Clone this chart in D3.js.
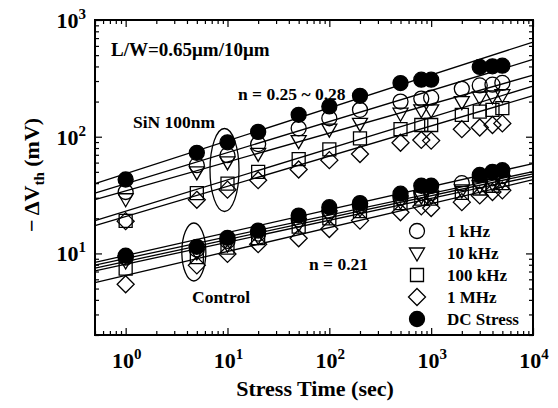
<!DOCTYPE html>
<html>
<head>
<meta charset="utf-8">
<script src="https://cdn.jsdelivr.net/npm/d3@7"></script>
<style>
  body { margin: 0; background: #fff; }
  svg text { font-family: "Liberation Serif", "Times New Roman", serif; font-weight: bold; fill: #000; }
</style>
</head>
<body>
<svg id="chart"></svg>
<script>
// Stress times (sec)
var timesAC = [1, 5, 10, 20, 50, 100, 200, 500, 800, 1000, 2000, 3000, 4000, 5000];
var timesDC = [1, 5, 10, 20, 50, 100, 200, 500, 800, 1000, 3000, 4000, 5000];

// SiN 100nm, -dVth (mV)
var sin1k   = [33.6, 57, 69.5, 86.5, 118, 144, 170, 200, 212, 216, 257, 275, 279, 289];
var sin10k  = [29.4, 49.9, 60.8, 72, 92.5, 116, 130, 159, 170, 170, 200, 219, 224, 229];
var sin100k = [19, 32.9, 39.6, 50, 64.3, 77.8, 96.9, 116, 126, 126, 154, 164, 170, 176];
var sin1M   = [18.9, 28.8, 35.2, 42.4, 52.4, 63, 71, 88.7, 93.8, 92.6, 116, 120, 126, 130];
var sinDC   = [43, 72.8, 89.6, 110, 154, 181.6, 224, 288, 308, 308, 396, 401, 406];

// Control, -dVth (mV)
var ctl1k   = [9.2, 10.8, 12.8, 14.8, 19.5, 23, 25.5, 30, 33, 33, 40, 42, 44, 46];
var ctl10k  = [8.6, 10.3, 12, 14, 18, 21, 24, 28, 31, 31, 35, 38, 40, 42];
var ctl100k = [7.4, 9.3, 11.2, 13.5, 17, 20, 23, 27, 29.5, 29.5, 33, 36, 38, 40];
var ctl1M   = [5.44, 7.9, 9.9, 12, 13.5, 16.2, 19.1, 22.5, 25.3, 24.5, 27.5, 31.4, 33.6, 34.7];
var ctlDC   = [9.55, 11.4, 13.6, 15.7, 21.1, 24.9, 27, 32.5, 38, 38, 47, 50, 51.6];

// power-law fit lines, dV = a * t^n  (order: 1k, 10k, 100k, 1M, DC)
var sinFitA = [39.6, 34.3, 23.0, 20.7, 48.2];
var sinFitN = [0.266, 0.248, 0.268, 0.259, 0.282];
var ctlFitA = [9.05, 8.52, 8.09, 6.48, 9.59];
var ctlFitN = [0.186, 0.188, 0.188, 0.205, 0.197];

var legendLabels = ["1 kHz", "10 kHz", "100 kHz", "1 MHz", "DC Stress"];
var shapes = ["circle", "triangle", "square", "diamond", "dot"];
var xMajor = [1, 10, 100, 1000, 10000];
var yMajor = [10, 100, 1000];

var width = 558, height = 408;
var padL = 95, padR = 533, padT = 20, padB = 335;

var svg = d3.select("#chart").attr("width", width).attr("height", height);

var x = d3.scaleLog().domain([0.5, 1e4]).range([padL, padR]);
var y = d3.scaleLog().domain([2, 1000]).range([padB, padT]);

// minor tick values
var xMinor = [], yMinor = [];
[0.1, 1, 10, 100, 1000].forEach(function(d) {
  for (var k = 2; k <= 9; k++) {
    var v = d * k;
    if (v >= 0.5 && v < 1e4) xMinor.push(v);
  }
});
[1, 10, 100].forEach(function(d) {
  for (var k = 2; k <= 9; k++) {
    var v = d * k;
    if (v >= 2 && v < 1000) yMinor.push(v);
  }
});

function tickAxis(axis, values, size, transform) {
  var g = svg.append("g")
    .attr("transform", transform)
    .call(axis.tickValues(values).tickSize(size).tickFormat(""));
  g.select(".domain").remove();
  g.selectAll("line").attr("stroke", "#000").attr("stroke-width", 1.2);
}

tickAxis(d3.axisBottom(x), xMajor, -7, "translate(0," + padB + ")");
tickAxis(d3.axisBottom(x), xMinor, -4, "translate(0," + padB + ")");
tickAxis(d3.axisTop(x), xMajor, -7, "translate(0," + padT + ")");
tickAxis(d3.axisTop(x), xMinor, -4, "translate(0," + padT + ")");
tickAxis(d3.axisLeft(y), yMajor, -7, "translate(" + padL + ",0)");
tickAxis(d3.axisLeft(y), yMinor, -4, "translate(" + padL + ",0)");
tickAxis(d3.axisRight(y), yMajor, -7, "translate(" + padR + ",0)");
tickAxis(d3.axisRight(y), yMinor, -4, "translate(" + padR + ",0)");

// frame
svg.append("rect")
  .attr("x", padL).attr("y", padT)
  .attr("width", padR - padL).attr("height", padB - padT)
  .attr("fill", "none").attr("stroke", "#000").attr("stroke-width", 2);

// tick labels with superscript exponent
xMajor.forEach(function(v) {
  var t = svg.append("text")
    .attr("x", x(v) + 1).attr("y", 368)
    .attr("text-anchor", "middle")
    .style("font-size", "22px")
    .text("10");
  t.append("tspan").attr("dy", -9).style("font-size", "15px").text(Math.round(Math.log10(v)));
});
yMajor.forEach(function(v) {
  var t = svg.append("text")
    .attr("x", 86).attr("y", y(v) + 8)
    .attr("text-anchor", "end")
    .style("font-size", "22px")
    .text("10");
  t.append("tspan").attr("dy", -9).style("font-size", "15px").text(Math.round(Math.log10(v)));
});

// axis titles
svg.append("text")
  .attr("x", (padL + padR) / 2 + 1).attr("y", 396)
  .attr("text-anchor", "middle")
  .style("font-size", "22px")
  .text("Stress Time (sec)");

var yt = svg.append("text")
  .attr("transform", "translate(39,175) rotate(-90)")
  .attr("text-anchor", "middle")
  .style("font-size", "22px");
yt.append("tspan").text("\u2212 \u0394V");
yt.append("tspan").attr("dy", 5).style("font-size", "15px").text("th");
yt.append("tspan").attr("dy", -5).text(" (mV)");

// fit lines
var plot = svg.append("g");
var tEnds = x.domain();
function fitLines(A, N) {
  A.forEach(function(a, i) {
    plot.append("line")
      .attr("x1", x(tEnds[0])).attr("y1", y(a * Math.pow(tEnds[0], N[i])))
      .attr("x2", x(tEnds[1])).attr("y2", y(a * Math.pow(tEnds[1], N[i])))
      .attr("stroke", "#000").attr("stroke-width", 1.3);
  });
}
fitLines(sinFitA, sinFitN);
fitLines(ctlFitA, ctlFitN);

// markers
function shapePath(shape) {
  if (shape == "triangle") return "M-7.5,-5L7.5,-5L0,8Z";
  if (shape == "square") return "M-6.5,-6.5L6.5,-6.5L6.5,6.5L-6.5,6.5Z";
  if (shape == "diamond") return "M0,-8.5L8.5,0L0,8.5L-8.5,0Z";
  return "M7.5,0A7.5,7.5 0 1,1 -7.5,0A7.5,7.5 0 1,1 7.5,0Z";
}

function drawSeries(times, values, shape) {
  plot.selectAll(null)
    .data(values)
    .enter()
    .append("path")
      .attr("d", shapePath(shape))
      .attr("transform", function(d, i) { return "translate(" + x(times[i]) + "," + y(d) + ")"; })
      .attr("fill", shape == "dot" ? "#000" : "none")
      .attr("stroke", "#000")
      .attr("stroke-width", 1.3);
}

var sinSeries = [sin1k, sin10k, sin100k, sin1M, sinDC];
var ctlSeries = [ctl1k, ctl10k, ctl100k, ctl1M, ctlDC];
[sinSeries, ctlSeries].forEach(function(group) {
  group.forEach(function(vals, i) {
    drawSeries(i == 4 ? timesDC : timesAC, vals, shapes[i]);
  });
});

// group ellipses
svg.append("ellipse")
  .attr("cx", x(10) - 3).attr("cy", 170).attr("rx", 14.5).attr("ry", 41.5)
  .attr("fill", "none").attr("stroke", "#000").attr("stroke-width", 1.3);
svg.append("ellipse")
  .attr("cx", x(5) - 3).attr("cy", 252).attr("rx", 12).attr("ry", 29)
  .attr("fill", "none").attr("stroke", "#000").attr("stroke-width", 1.3);

// annotations
function note(tx, ty, size, str) {
  svg.append("text").attr("x", tx).attr("y", ty).style("font-size", size + "px").text(str);
}
note(111, 56, 19, "L/W=0.65\u03bcm/10\u03bcm");
note(238, 100, 17.5, "n = 0.25 ~ 0.28");
note(133, 128, 17.5, "SiN 100nm");
note(192, 303, 17.5, "Control");
note(309, 270, 17.5, "n = 0.21");

// legend
var legend = svg.append("g").attr("transform", "translate(417,231)");
legendLabels.forEach(function(label, i) {
  legend.append("path")
    .attr("d", shapePath(shapes[i]))
    .attr("transform", "translate(0," + (i * 22) + ")")
    .attr("fill", shapes[i] == "dot" ? "#000" : "none")
    .attr("stroke", "#000").attr("stroke-width", 1.3);
  legend.append("text")
    .attr("x", 30).attr("y", i * 22 + 6)
    .style("font-size", "17px")
    .text(label);
});
</script>
</body>
</html>
